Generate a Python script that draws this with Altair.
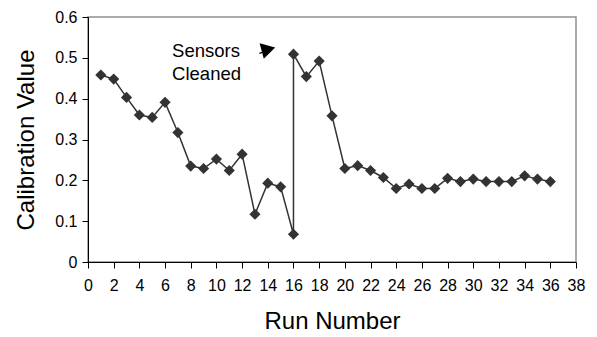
import altair as alt
import pandas as pd

run = [1, 2, 3, 4, 5, 6, 7, 8, 9, 10, 11, 12, 13, 14, 15, 16, 16, 17, 18, 19, 20,
       21, 22, 23, 24, 25, 26, 27, 28, 29, 30, 31, 32, 33, 34, 35, 36]
value = [0.458, 0.448, 0.403, 0.360, 0.354, 0.391, 0.317, 0.235, 0.229, 0.252,
         0.224, 0.264, 0.117, 0.193, 0.184, 0.068, 0.509, 0.454, 0.492, 0.358,
         0.229, 0.236, 0.224, 0.207, 0.180, 0.191, 0.180, 0.180, 0.205, 0.197,
         0.203, 0.197, 0.197, 0.197, 0.211, 0.203, 0.197]
x_ticks = list(range(0, 39, 2))
y_ticks = [0, 0.1, 0.2, 0.3, 0.4, 0.5, 0.6]

df = pd.DataFrame({"run": run, "value": value, "order": list(range(len(run)))})

FONT = "Liberation Sans"
C = "#333333"

xs = alt.Scale(domain=[0, 38], nice=False, zero=False)
ys = alt.Scale(domain=[0, 0.6], nice=False)

x = alt.X("run:Q", title="Run Number", scale=xs,
          axis=alt.Axis(values=x_ticks, grid=False, domainColor="#000", tickColor="#000",
                        labelFontSize=16, titleFontSize=24, labelPadding=9,
                        titlePadding=16, tickSize=6, labelFlush=False, labelOverlap=False))
y = alt.Y("value:Q", title="Calibration Value", scale=ys,
          axis=alt.Axis(values=y_ticks, grid=False, domainColor="#000", tickColor="#000",
                        labelFontSize=16, titleFontSize=24, labelPadding=5,
                        titlePadding=16, tickSize=6, format="~g", labelOverlap=False))

line = alt.Chart(df).mark_line(color=C, strokeWidth=1.5).encode(x=x, y=y, order="order:Q")
pts = alt.Chart(df).mark_point(shape="diamond", filled=True, color=C, size=125, opacity=1).encode(x=x, y=y)

ann_df = pd.DataFrame({"run": [6.55, 6.55], "value": [0.502, 0.446], "t": ["Sensors", "Cleaned"]})
ann = alt.Chart(ann_df).mark_text(align="left", baseline="alphabetic", fontSize=18.5, font=FONT,
                                   color="#000").encode(x=x, y=y, text="t:N")

arr_line = pd.DataFrame({"run": [13.35], "value": [0.511], "run2": [14.2], "value2": [0.52]})
shaft = alt.Chart(arr_line).mark_rule(color="#000", strokeWidth=1.2).encode(
    x=x, y=y, x2="run2:Q", y2="value2:Q")
head = alt.Chart(pd.DataFrame({"run": [14.05], "value": [0.521]})).mark_point(
    shape="triangle-right", filled=True, color="#000", size=260, angle=345, opacity=1
).encode(x=x, y=y)

chart = alt.layer(line, pts, shaft, head, ann).properties(
    width=488, height=245,
    autosize=alt.AutoSizeParams(type="none"),
    padding={"left": 80, "top": 9, "right": 12, "bottom": 73},
).configure(font=FONT).configure_view(stroke="#909090", strokeWidth=1.5).configure_axis(
    labelColor="#000", titleColor="#000", titleFontWeight="normal", labelFont=FONT, titleFont=FONT
)

chart.save("out.html", embed_options={"renderer": "svg", "actions": False})
